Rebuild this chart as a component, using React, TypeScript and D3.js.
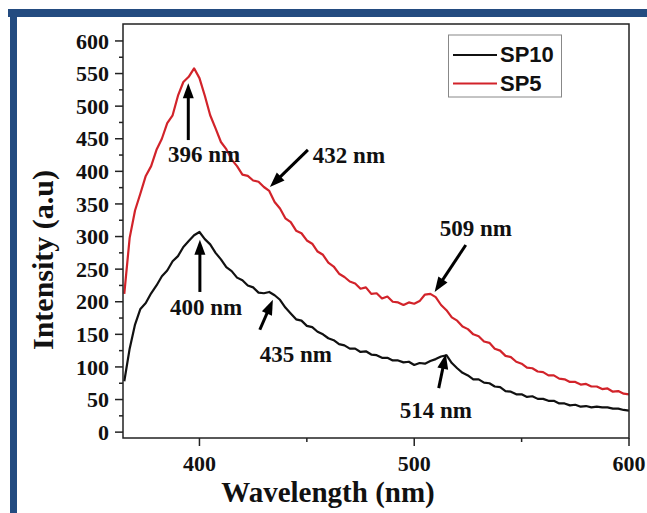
import React from "react";
import * as d3 from "d3";

// Wavelength grid (nm) sampled every 2.5 nm
const wavelengths: number[] = d3.range(0, 95).map((i) => 365 + i * 2.5);

const sp5: number[] = [
  212, 298, 340, 366, 393, 408, 433, 450, 474, 486,
  516, 537, 545, 558, 543, 516, 486, 466, 445, 434,
  418, 408, 395, 393, 386, 384, 376, 370, 353, 343,
  328, 322, 309, 305, 294, 289, 277, 272, 260, 254,
  243, 238, 231, 228, 220, 222, 212, 213, 205, 208,
  200, 199, 195, 199, 197, 201, 211, 212, 207, 195,
  187, 176, 171, 162, 158, 150, 147, 139, 137, 128,
  125, 117, 115, 108, 105, 99, 98, 93, 92, 87,
  87, 82, 81, 77, 77, 73, 74, 70, 70, 66,
  67, 62, 63, 59, 58,
];

const sp10: number[] = [
  78, 128, 165, 189, 198, 213, 225, 239, 248, 262,
  270, 284, 293, 302, 307, 296, 288, 275, 265, 253,
  247, 237, 233, 225, 222, 214, 213, 215, 210, 203,
  191, 182, 173, 171, 163, 161, 154, 150, 144, 141,
  135, 133, 128, 128, 123, 124, 119, 118, 114, 114,
  110, 110, 107, 108, 103, 106, 105, 109, 112, 116,
  118, 106, 98, 91, 87, 81, 81, 76, 75, 70,
  69, 63, 62, 58, 58, 54, 55, 51, 51, 48,
  48, 44, 44, 41, 42, 39, 40, 38, 39, 38,
  38, 36, 36, 34, 33,
];

const seriesNames = ["SP10", "SP5"];
const seriesColors = ["#111111", "#d2232a"];

const xMajorTicks = [400, 500, 600];
const xMinorTicks = [450, 550];
const yMajorTicks = [0, 50, 100, 150, 200, 250, 300, 350, 400, 450, 500, 550, 600];
const yMinorTicks = [25, 75, 125, 175, 225, 275, 325, 375, 425, 475, 525, 575];

// annotations: label, text position (nm, intensity), arrow tail, arrow tip
const annotLabels = ["396 nm", "432 nm", "400 nm", "435 nm", "509 nm", "514 nm"];
const annotTextPos: [number, number][] = [
  [385.3, 414], [452.8, 413], [386.3, 179], [428.1, 107], [511.9, 301], [493.3, 21.5],
];
const annotTail: [number, number][] = [
  [394.8, 448], [450.5, 433], [400.2, 215], [428.1, 157], [524, 287], [511.4, 67.5],
];
const annotTip: [number, number][] = [
  [394.8, 535], [432.8, 376], [400.2, 295], [434.2, 203], [509.5, 215], [514.7, 120],
];

const W = 647;
const H = 513;
const M = { left: 123, right: 629, top: 24, bottom: 438 };

export default function App() {
  const x = d3.scaleLinear().domain([364.4, 600]).range([M.left, M.right]);
  const y = d3.scaleLinear().domain([-9, 626]).range([M.bottom, M.top]);

  const line = d3
    .line<[number, number]>()
    .x((d) => x(d[0]))
    .y((d) => y(d[1]));

  const dataSets = [sp10, sp5];
  const serif = "'Liberation Serif', 'Times New Roman', serif";
  const sans = "'Liberation Sans', Arial, sans-serif";
  const axisColor = "#222";

  const arrow = (i: number) => {
    const x0 = x(annotTail[i][0]);
    const y0 = y(annotTail[i][1]);
    const x1 = x(annotTip[i][0]);
    const y1 = y(annotTip[i][1]);
    const dx = x1 - x0;
    const dy = y1 - y0;
    const len = Math.sqrt(dx * dx + dy * dy);
    const ux = dx / len;
    const uy = dy / len;
    const hl = 15;
    const hw = 5.5;
    const bx = x1 - ux * hl;
    const by = y1 - uy * hl;
    const px = -uy;
    const py = ux;
    return (
      <g key={"a" + i}>
        <line x1={x0} y1={y0} x2={bx + ux * 2} y2={by + uy * 2} stroke="#000" strokeWidth={3} />
        <polygon
          points={`${x1},${y1} ${bx + px * hw},${by + py * hw} ${bx - px * hw},${by - py * hw}`}
          fill="#000"
        />
      </g>
    );
  };

  return (
    <svg
      width={W}
      height={H}
      style={{ position: "absolute", left: 0, top: 0, background: "#fff" }}
    >
      <rect x={0} y={0} width={W} height={H} fill="#fff" />
      {/* blue frame */}
      <rect x={8} y={9} width={W - 8} height={8} fill="#234b80" />
      <rect x={10} y={9} width={7} height={H - 9} fill="#234b80" />

      <defs>
        <clipPath id="clip">
          <rect x={M.left} y={M.top} width={M.right - M.left} height={M.bottom - M.top} />
        </clipPath>
      </defs>

      {/* curves */}
      <g clipPath="url(#clip)">
        {dataSets.map((vals, si) => (
          <path
            key={seriesNames[si]}
            d={line(wavelengths.map((w, i) => [w, vals[i]]) as [number, number][]) || ""}
            fill="none"
            stroke={seriesColors[si]}
            strokeWidth={2.2}
            strokeLinejoin="round"
          />
        ))}
      </g>

      {/* frame */}
      <rect
        x={M.left}
        y={M.top}
        width={M.right - M.left}
        height={M.bottom - M.top}
        fill="none"
        stroke={axisColor}
        strokeWidth={1.5}
      />

      {/* y ticks */}
      {yMajorTicks.map((t) => (
        <g key={"yt" + t}>
          <line x1={M.left - 8} x2={M.left} y1={y(t)} y2={y(t)} stroke={axisColor} strokeWidth={1.5} />
          <text
            x={M.left - 14}
            y={y(t)}
            dy="0.35em"
            textAnchor="end"
            fontFamily={serif}
            fontWeight="bold"
            fontSize={22}
            fill="#111"
          >
            {t}
          </text>
        </g>
      ))}
      {yMinorTicks.map((t) => (
        <line key={"ym" + t} x1={M.left - 4} x2={M.left} y1={y(t)} y2={y(t)} stroke={axisColor} strokeWidth={1.5} />
      ))}

      {/* x ticks */}
      {xMajorTicks.map((t) => (
        <g key={"xt" + t}>
          <line x1={x(t)} x2={x(t)} y1={M.bottom} y2={M.bottom + 8} stroke={axisColor} strokeWidth={1.5} />
          <text
            x={x(t)}
            y={471}
            textAnchor="middle"
            fontFamily={serif}
            fontWeight="bold"
            fontSize={22}
            fill="#111"
          >
            {t}
          </text>
        </g>
      ))}
      {xMinorTicks.map((t) => (
        <line key={"xm" + t} x1={x(t)} x2={x(t)} y1={M.bottom} y2={M.bottom + 4} stroke={axisColor} strokeWidth={1.5} />
      ))}

      {/* axis titles */}
      <text
        x={328}
        y={502}
        textAnchor="middle"
        fontFamily={serif}
        fontWeight="bold"
        fontSize={29}
        fill="#111"
      >
        Wavelength (nm)
      </text>
      <text
        transform={`translate(53, 260) rotate(-90)`}
        textAnchor="middle"
        fontFamily={serif}
        fontWeight="bold"
        fontSize={30}
        fill="#111"
      >
        Intensity (a.u)
      </text>

      {/* annotations */}
      {annotLabels.map((lab, i) => (
        <g key={"an" + i}>
          {arrow(i)}
          <text
            x={x(annotTextPos[i][0])}
            y={y(annotTextPos[i][1])}
            fontFamily={serif}
            fontWeight="bold"
            fontSize={23}
            fill="#111"
          >
            {lab}
          </text>
        </g>
      ))}

      {/* legend */}
      <rect x={448.5} y={35} width={113} height={62} fill="#fff" stroke="#888" strokeWidth={1} />
      {seriesNames.map((n, i) => (
        <g key={"lg" + n}>
          <line
            x1={453}
            x2={497}
            y1={55 + i * 28.5}
            y2={55 + i * 28.5}
            stroke={seriesColors[i]}
            strokeWidth={2}
          />
          <text x={500} y={62 + i * 28.5} fontFamily={sans} fontWeight="bold" fontSize={22} fill="#111">
            {n}
          </text>
        </g>
      ))}
    </svg>
  );
}
